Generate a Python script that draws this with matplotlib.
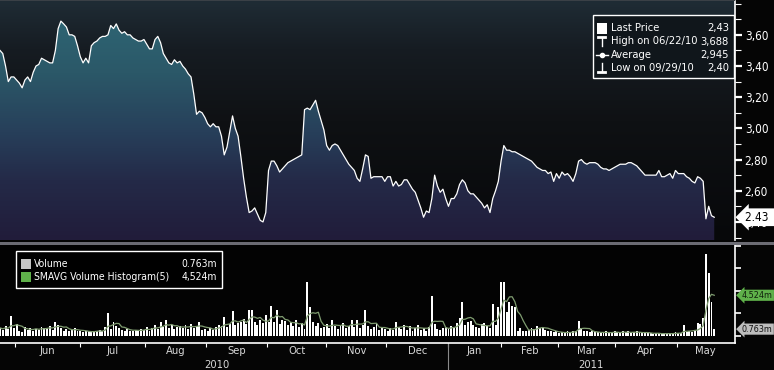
import numpy as np
import pandas as pd
import matplotlib
matplotlib.use('Agg')
import matplotlib.pyplot as plt
from matplotlib.colors import LinearSegmentedColormap
from matplotlib.lines import Line2D
from matplotlib.patches import Rectangle
from matplotlib.ticker import FuncFormatter, MultipleLocator
from matplotlib.transforms import blended_transform_factory

# daily closing price (one value per trading day, May 2010 - May 2011)
price = [
    3.50, 3.48, 3.40, 3.30, 3.33, 3.33, 3.31, 3.29, 3.26, 3.31,
    3.33, 3.30, 3.36, 3.40, 3.41, 3.45, 3.44, 3.43, 3.42, 3.42,
    3.50, 3.64, 3.688, 3.67, 3.65, 3.60, 3.60, 3.59, 3.53, 3.46,
    3.42, 3.45, 3.42, 3.53, 3.55, 3.56, 3.58, 3.59, 3.59, 3.60,
    3.66, 3.64, 3.67, 3.63, 3.61, 3.62, 3.60, 3.60, 3.58, 3.57,
    3.56, 3.56, 3.57, 3.54, 3.51, 3.51, 3.57, 3.59, 3.55, 3.48,
    3.45, 3.42, 3.41, 3.44, 3.42, 3.43, 3.40, 3.38, 3.35, 3.33,
    3.22, 3.09, 3.11, 3.10, 3.07, 3.03, 3.01, 3.03, 3.01, 3.01,
    2.95, 2.83, 2.88, 2.98, 3.08, 3.00, 2.95, 2.82, 2.68, 2.56,
    2.46, 2.47, 2.49, 2.45, 2.41, 2.40, 2.46, 2.73, 2.79, 2.79,
    2.76, 2.72, 2.74, 2.76, 2.78, 2.79, 2.80, 2.81, 2.82, 2.83,
    3.12, 3.13, 3.12, 3.15, 3.18, 3.11, 3.05, 2.99, 2.89, 2.86,
    2.89, 2.90, 2.89, 2.86, 2.83, 2.80, 2.77, 2.75, 2.73, 2.68,
    2.66, 2.74, 2.83, 2.82, 2.68, 2.69, 2.69, 2.69, 2.69, 2.66,
    2.69, 2.69, 2.63, 2.66, 2.63, 2.64, 2.67, 2.67, 2.64, 2.61,
    2.59, 2.54, 2.49, 2.43, 2.47, 2.46, 2.55, 2.70, 2.63, 2.59,
    2.61, 2.55, 2.50, 2.55, 2.55, 2.58, 2.64, 2.67, 2.65, 2.60,
    2.58, 2.58, 2.56, 2.54, 2.52, 2.49, 2.51, 2.46, 2.55, 2.60,
    2.66, 2.79, 2.89, 2.86, 2.86, 2.85, 2.85, 2.84, 2.83, 2.82,
    2.81, 2.80, 2.79, 2.77, 2.75, 2.74, 2.73, 2.73, 2.71, 2.72,
    2.66, 2.71, 2.68, 2.72, 2.70, 2.71, 2.69, 2.66, 2.71, 2.79,
    2.80, 2.78, 2.77, 2.78, 2.78, 2.78, 2.77, 2.75, 2.74, 2.74,
    2.73, 2.74, 2.75, 2.76, 2.77, 2.77, 2.77, 2.78, 2.78, 2.77,
    2.76, 2.74, 2.72, 2.70, 2.70, 2.70, 2.70, 2.70, 2.73, 2.69,
    2.69, 2.70, 2.71, 2.68, 2.73, 2.71, 2.71, 2.71, 2.69, 2.68,
    2.66, 2.65, 2.69, 2.68, 2.66, 2.42, 2.50, 2.44, 2.43,
]

# daily volume, millions
volume = [
    0.9, 0.7, 1.1, 0.8, 2.2, 0.9, 1.3, 0.6, 0.4, 1.0,
    0.7, 0.9, 0.6, 0.8, 0.7, 1.0, 0.9, 0.8, 1.1, 0.7,
    1.5, 1.2, 0.9, 0.6, 0.8, 0.5, 0.7, 0.9, 0.6, 0.5,
    0.4, 0.5, 0.6, 0.4, 0.5, 0.6, 0.7, 0.5, 1.0, 2.6,
    0.8, 1.5, 1.1, 0.9, 0.7, 0.6, 0.8, 0.5, 0.6, 0.7,
    0.5, 0.8, 0.7, 1.0, 0.6, 0.9, 1.2, 0.8, 1.5, 1.0,
    1.8, 0.9, 1.2, 0.8, 1.0, 1.1, 0.9, 1.2, 0.8, 1.3,
    0.9, 1.1, 1.5, 0.7, 0.8, 0.6, 0.9, 0.7, 1.0, 1.2,
    1.1, 2.1, 1.0, 1.3, 2.8, 1.2, 1.4, 1.6, 1.9, 1.3,
    2.9, 2.9, 1.5, 1.2, 1.8, 1.4, 2.3, 1.6, 3.3, 1.5,
    2.9, 1.3, 1.8, 1.7, 1.2, 1.6, 1.1, 1.8, 1.0, 1.4,
    0.8, 6.0, 3.2, 1.5, 1.1, 1.4, 0.9, 1.0, 1.3, 0.9,
    1.8, 1.1, 0.8, 1.2, 1.4, 0.9, 1.1, 1.8, 1.0, 1.8,
    0.9, 1.2, 2.9, 1.1, 0.8, 1.0, 1.3, 0.7, 0.9, 0.8,
    0.6, 0.9, 0.7, 1.6, 1.0, 0.8, 1.2, 0.7, 1.1, 0.6,
    0.9, 1.2, 0.7, 0.9, 0.6, 1.0, 4.4, 1.3, 0.8, 0.7,
    0.9, 1.0, 0.8, 1.1, 0.9, 1.4, 2.0, 3.8, 1.2, 1.6,
    1.7, 1.2, 1.0, 0.9, 1.3, 1.4, 1.1, 0.9, 3.5, 1.2,
    3.2, 6.0, 6.0, 2.7, 3.8, 3.3, 3.2, 0.6, 0.9, 0.5,
    0.5, 0.7, 0.9, 0.8, 1.1, 0.9, 1.0, 0.7, 0.6, 0.5,
    0.4, 0.5, 0.3, 0.4, 0.3, 0.5, 0.4, 0.6, 0.5, 1.7,
    0.9, 0.6, 0.5, 0.4, 0.5, 0.4, 0.4, 0.3, 0.4, 0.5,
    0.3, 0.4, 0.5, 0.4, 0.3, 0.5, 0.4, 0.5, 0.3, 0.4,
    0.5, 0.4, 0.3, 0.3, 0.4, 0.3, 0.2, 0.3, 0.3, 0.2,
    0.3, 0.2, 0.3, 0.3, 0.4, 0.3, 0.3, 1.2, 0.4, 0.5,
    0.4, 0.6, 1.4, 1.3, 1.96, 9.1, 7.0, 3.8, 0.763,
]

month_names = ['Jun', 'Jul', 'Aug', 'Sep', 'Oct', 'Nov', 'Dec',
               'Jan', 'Feb', 'Mar', 'Apr', 'May']
# month boundaries in trading-day index units
month_starts = [5.4, 28.9, 52.4, 74.5, 96.5, 117.9, 139.6,
                162.0, 180.8, 201.7, 222.3, 244.4]
x_end = 265.5
year_names = ['2010', '2011']
year_pos = [78.5, 213.3]
year_split = 162.0

legend_rows = [('Last Price', '2,43'), ('High on 06/22/10', '3,688'),
               ('Average', '2,945'), ('Low on 09/29/10', '2,40')]
vol_rows = [('Volume', '0.763m'), ('SMAVG Volume Histogram(5)', '4,524m')]
last_price = 2.43
last_vol = 0.763
last_sma = 4.524

W, H = 774, 370
def fx(p):
    return p / W
def fy(p):
    return 1 - p / H

# condensed face of DejaVu if present, otherwise the normal one
TXT = dict(family='DejaVu Sans', stretch='condensed')

x = np.arange(len(price))
sma = pd.Series(volume).rolling(5, min_periods=1).mean()

fig = plt.figure(figsize=(W / 100, H / 100), dpi=100, facecolor='#050505')

# ---- price panel ----
ax = fig.add_axes([0, fy(240), fx(735), 239 / H])
ytop, ybot = 3.817, 2.284
ax.set_xlim(0, x_end)
ax.set_ylim(ybot, ytop)

bg_cmap = LinearSegmentedColormap.from_list(
    'bg', [(0, '#07080a'), (0.5, '#0f1114'), (0.8, '#161c22'), (1, '#1f2c35')])
fill_cmap = LinearSegmentedColormap.from_list(
    'fl', [(0, '#211c3a'), (0.25, '#242a48'), (0.45, '#273f5a'),
           (0.7, '#2b5868'), (1, '#2f6977')])
grad = np.linspace(0, 1, 256).reshape(-1, 1)
ax.imshow(grad, cmap=bg_cmap, origin='lower', aspect='auto',
          extent=[0, x_end, ybot, ytop], zorder=0)
poly = ax.fill_between(x, price, ybot, facecolor='none', edgecolor='none')
im = ax.imshow(grad, cmap=fill_cmap, origin='lower', aspect='auto',
               extent=[0, x_end, ybot, ytop], zorder=1)
im.set_clip_path(poly.get_paths()[0], transform=ax.transData)
ax.plot(x, price, color='white', lw=0.9, zorder=2)

for s in ['top', 'left', 'bottom']:
    ax.spines[s].set_visible(False)
ax.spines['right'].set_color('white')
ax.spines['right'].set_linewidth(1.2)
ax.set_xticks([])
ax.yaxis.tick_right()
ax.set_yticks([2.4, 2.6, 2.8, 3.0, 3.2, 3.4, 3.6])
ax.yaxis.set_minor_locator(MultipleLocator(0.1))
ax.yaxis.set_major_formatter(FuncFormatter(lambda v, p: f'{v:.2f}'.replace('.', ',')))
ax.tick_params(axis='y', which='major', direction='out', length=5, width=1.6,
               colors='white', labelsize=8.5, pad=2)
ax.tick_params(axis='y', which='minor', direction='out', length=4, width=0.8,
               colors='white')
for t in ax.get_yticklabels():
    t.set_fontstretch('condensed')

tr = blended_transform_factory(ax.transAxes, ax.transData)
ax.text(1.0 + 10 / 735, last_price, '2.43 ', transform=tr, ha='left', va='center',
        fontsize=8.5, color='black', zorder=10, **TXT,
        bbox=dict(boxstyle='larrow,pad=0.2', fc='white', ec='none'))

# ---- volume panel ----
axv = fig.add_axes([0, fy(343), fx(735), 98 / H], facecolor='#030303')
axv.set_xlim(0, x_end)
axv.set_ylim(-0.78, 10.11)
axv.bar(x, volume, width=0.7, color='white', zorder=2)
axv.plot(x, sma, color='#7f9c70', lw=0.9, zorder=3)
for s in ['top', 'left']:
    axv.spines[s].set_visible(False)
for s in ['right', 'bottom']:
    axv.spines[s].set_color('white')
    axv.spines[s].set_linewidth(1.2)
axv.yaxis.tick_right()
axv.set_yticks([0, 2.5, 5, 7.5, 10])
axv.set_yticklabels([])
axv.tick_params(axis='y', direction='out', length=4, width=1.2, colors='white')

mids = [(a + b) / 2 for a, b in zip(month_starts, month_starts[1:] + [x_end])]
axv.set_xticks(month_starts)
axv.set_xticklabels([])
axv.set_xticks(mids, minor=True)
axv.set_xticklabels(month_names, minor=True)
axv.tick_params(axis='x', which='major', direction='out', length=3, width=0.8,
                colors='white')
axv.tick_params(axis='x', which='minor', length=0, labelsize=8,
                labelcolor='#d8d8d8', pad=2)
for t in axv.get_xticklabels(minor=True):
    t.set_fontstretch('condensed')
trv = blended_transform_factory(axv.transData, axv.transAxes)
for name, pos in zip(year_names, year_pos):
    axv.text(pos, -0.225, name, transform=trv, ha='center', va='center',
             fontsize=8, color='#d8d8d8', **TXT)
axv.plot([year_split, year_split], [0, -0.3], transform=trv, clip_on=False,
         color='#8a8a8a', lw=0.8)

trv2 = blended_transform_factory(axv.transAxes, axv.transData)
axv.text(1.0 + 7 / 735, last_sma, '4.524m', transform=trv2, ha='left',
         va='center', fontsize=6.5, color='#10200c', zorder=10, **TXT,
         bbox=dict(boxstyle='larrow,pad=0.12', fc='#5fb14a', ec='none'))
axv.text(1.0 + 7 / 735, last_vol, '0.763m', transform=trv2, ha='left',
         va='center', fontsize=6.5, color='#101010', zorder=10, **TXT,
         bbox=dict(boxstyle='larrow,pad=0.12', fc='#bdbdbd', ec='none'))

# separator and top rule
fig.patches.append(Rectangle((0, fy(245)), 1, 3.5 / H, transform=fig.transFigure,
                             fc='#6c6c74', ec='none', zorder=4))
fig.patches.append(Rectangle((0, fy(1)), fx(735), 1 / H, transform=fig.transFigure,
                             fc='#3a4046', ec='none', zorder=4))

# ---- price legend ----
fig.patches.append(Rectangle((fx(593), fy(78)), fx(734 - 593), 63 / H,
                             transform=fig.transFigure, fc='#10161b', ec='white',
                             lw=1, zorder=5))
row_y = [28.3, 41.5, 55, 68]
for (lab, val), ry in zip(legend_rows, row_y):
    fig.text(fx(611), fy(ry), lab, ha='left', va='center', fontsize=8,
             color='white', zorder=6, **TXT)
    fig.text(fx(729), fy(ry), val, ha='right', va='center', fontsize=8,
             color='white', zorder=6, **TXT)
fig.patches.append(Rectangle((fx(597), fy(33.5)), fx(10), 10 / H,
                             transform=fig.transFigure, fc='white', ec='none',
                             zorder=6))
icon = dict(transform=fig.transFigure, color='white', lw=1, zorder=6)
fig.lines += [
    Line2D([fx(601.5), fx(601.5)], [fy(37), fy(46)], **icon),
    Line2D([fx(598), fx(605)], [fy(37), fy(37)], lw=2, transform=fig.transFigure,
           color='white', zorder=6),
    Line2D([fx(596), fx(608)], [fy(55), fy(55)], **icon),
    Line2D([fx(602)], [fy(55)], marker='o', ms=3, transform=fig.transFigure,
           color='white', zorder=6),
    Line2D([fx(601.5), fx(601.5)], [fy(63), fy(72)], **icon),
    Line2D([fx(598), fx(605)], [fy(72), fy(72)], lw=2, transform=fig.transFigure,
           color='white', zorder=6),
]

# ---- volume legend ----
fig.patches.append(Rectangle((fx(16), fy(288)), fx(222 - 16), 37 / H,
                             transform=fig.transFigure, fc='#000000', ec='white',
                             lw=1, zorder=5))
vrow_y = [264, 277]
vcols = ['#c4c4c4', '#5fb14a']
for (lab, val), ry, c in zip(vol_rows, vrow_y, vcols):
    fig.patches.append(Rectangle((fx(21), fy(ry + 5)), fx(10), 10 / H,
                                 transform=fig.transFigure, fc=c, ec='none',
                                 zorder=6))
    fig.text(fx(34), fy(ry), lab, ha='left', va='center', fontsize=7.5,
             color='white', zorder=6, **TXT)
    fig.text(fx(217), fy(ry), val, ha='right', va='center', fontsize=7.5,
             color='white', zorder=6, **TXT)

fig.savefig('out.png', dpi=100, facecolor=fig.get_facecolor())
